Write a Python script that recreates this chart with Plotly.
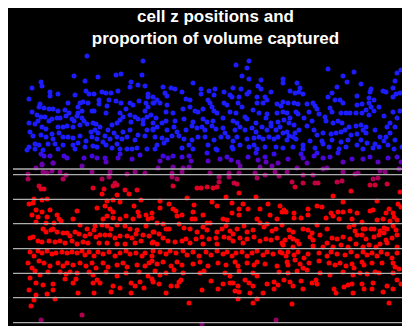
import plotly.graph_objects as go

# cell positions: [x position, z depth] (depth grows downward)
upper_cells = [
(87,56),(143,61),(74,76),(98,77),(116,75),(121,74),(142,75),(41,82),(42,86),(32,88),(85,81),(131,82),(138,85),(130,87),(145,86),(50,92),(50,96),(58,94),(86,91),(89,94),(94,94),(75,95),(102,92),(106,93),(111,93),(118,91),(148,94),(148,97),(29,99),(40,104),(39,107),(44,108),(49,109),(53,109),(58,111),(65,110),(68,103),(69,113),(80,103),(83,102),(88,103),(78,107),(82,111),(78,113),(92,111),(94,111),(99,100),(99,104),(109,100),(107,106),(106,113),(116,101),(121,103),(130,103),(133,105),(139,101),(146,103),(153,103),(148,107),(145,111),(120,113),(126,109),(32,112),(37,115),(41,117),(45,117),(49,121),(38,121),(29,123),(35,124),(42,127),(46,129),(52,119),(57,118),(60,118),(66,116),(72,119),(74,121),(77,116),(82,118),(84,121),(80,125),(73,127),(67,126),(63,127),(58,127),(87,124),(93,123),(96,124),(100,127),(95,130),(91,132),(98,133),(112,125),(117,123),(120,120),(123,117),(130,115),(135,117),(138,119),(143,120),(147,117),(151,115),(143,124),(131,122),(130,130),(123,132),(114,133),(108,130),(105,136),(103,142),(110,139),(117,137),(122,139),(127,137),(135,140),(138,135),(145,136),(147,130),(153,130),(153,123),(30,132),(33,136),(41,135),(46,137),(52,134),(53,139),(59,133),(63,137),(68,137),(73,138),(80,136),(86,141),(92,137),(97,139),(35,144),(39,145),(48,144),(55,144),(63,145),(73,145),(78,143),(85,147),(93,146),(97,147),(106,145),(112,148),(117,144),(120,149),(127,149),(132,149),(137,148),(147,149),(27,150),(29,147),(35,149),(43,150),(58,149),(75,149),(41,154),(50,156),(44,156),(64,156),(67,158),(53,163),(42,164),(84,158),(92,156),(97,158),(105,158),(106,162),(120,154),(118,158),(132,159),(140,155),
(249,61),(236,65),(247,68),(242,76),(249,79),(283,79),(283,83),(261,80),(193,83),(163,87),(171,88),(175,89),(182,92),(201,89),(201,94),(209,91),(215,89),(214,95),(224,92),(233,88),(241,89),(249,92),(258,86),(261,89),(271,92),(230,95),(232,97),(239,97),(247,94),(257,97),(265,97),(267,100),(153,97),(165,93),(167,96),(157,100),(160,103),(154,103),(167,105),(186,99),(190,100),(208,100),(210,103),(224,103),(227,105),(238,103),(242,107),(257,103),(263,103),(277,104),(281,106),(283,102),(173,113),(166,112),(183,109),(190,107),(195,111),(198,112),(203,109),(212,107),(214,111),(217,113),(230,112),(236,113),(245,117),(253,110),(259,113),(267,114),(277,113),(283,112),(156,118),(162,123),(166,121),(175,121),(184,119),(193,122),(203,119),(207,122),(213,121),(223,118),(233,121),(237,123),(247,119),(256,123),(266,118),(271,123),(278,122),(153,129),(157,127),(167,130),(174,127),(177,132),(179,136),(186,130),(192,126),(197,128),(202,127),(205,130),(212,126),(216,129),(223,128),(225,133),(235,130),(240,127),(245,130),(252,128),(256,132),(262,127),(267,130),(271,126),(276,130),(280,127),(283,133),(155,137),(162,138),(167,140),(172,136),(184,139),(192,140),(198,137),(205,137),(214,140),(221,137),(228,137),(233,141),(237,137),(247,139),(254,138),(259,137),(263,139),(269,137),(274,139),(278,137),(157,145),(155,149),(164,143),(182,148),(189,145),(193,149),(208,145),(216,149),(232,147),(233,149),(240,145),(249,147),(254,145),(257,149),(265,147),(276,147),(283,148),(163,156),(168,158),(173,156),(160,161),(182,157),(189,156),(191,161),(207,153),(208,161),(217,150),(220,159),(227,157),(231,160),(238,162),(248,157),(256,153),(258,160),(265,157),(266,162),(274,154),(278,163),
(328,69),(354,72),(343,76),(397,73),(401,70),(347,82),(361,84),(395,81),(297,83),(337,87),(300,88),(299,92),(290,91),(295,93),(303,94),(332,93),(328,97),(357,96),(370,92),(371,89),(383,91),(386,92),(393,88),(396,94),(400,93),(393,97),(369,98),(335,100),(340,100),(343,103),(288,103),(294,103),(298,104),(307,104),(313,103),(315,106),(357,105),(362,104),(369,103),(374,100),(366,110),(371,107),(374,111),(379,107),(287,113),(296,112),(298,114),(309,112),(317,109),(319,114),(330,108),(332,112),(341,113),(346,113),(350,113),(356,113),(362,113),(369,115),(384,116),(393,112),(400,111),(397,118),(284,120),(290,118),(289,123),(294,125),(304,118),(312,121),(325,117),(326,121),(333,123),(338,121),(342,123),(349,127),(356,126),(361,125),(366,127),(363,130),(375,130),(390,123),(387,127),(395,127),(287,132),(289,136),(293,137),(295,133),(299,130),(307,126),(314,130),(317,135),(323,133),(331,134),(336,133),(341,132),(345,130),(351,135),(357,134),(366,133),(380,137),(386,137),(390,133),(395,140),(287,140),(296,139),(303,145),(310,141),(322,141),(332,140),(341,142),(348,140),(361,140),(367,143),(375,144),(384,141),(293,147),(303,149),(315,148),(323,144),(329,147),(339,149),(346,147),(357,145),(363,149),(373,148),(379,147),(388,145),(394,149),(402,147),(288,159),(301,154),(303,158),(314,156),(323,158),(317,153),(330,157),(338,153),(343,162),(352,159),(363,159),(370,157),(378,162),(388,158),(397,157),(401,162),(307,163),
]

edge_cells = [
(36,168),(42,165),(53,163),(82,166),(28,174),(43,172),(47,173),(52,171),(60,172),(66,175),(92,172),(110,172),(127,174),(135,172),(28,179),(63,179),(102,179),(109,177),(115,183),(113,186),(117,185),(39,186),(41,189),(44,189),(93,188),(104,189),(125,190),(129,194),(137,190),(102,194),(117,195),(34,199),
(158,168),(173,167),(183,168),(189,167),(145,173),(172,173),(182,172),(210,173),(229,173),(240,166),(239,173),(255,173),(260,167),(265,175),(272,166),(275,172),(172,177),(177,179),(219,177),(219,182),(229,177),(234,183),(237,184),(257,178),(173,186),(197,188),(201,188),(207,187),(213,188),(217,187),(239,193),(256,197),(226,197),(187,198),
(297,168),(287,172),(303,175),(323,169),(327,168),(343,172),(355,174),(358,173),(380,171),(385,172),(399,169),(279,176),(313,175),(378,178),(292,182),(295,187),(303,183),(315,183),(318,183),(337,182),(342,181),(373,179),(370,185),(375,185),(387,184),(351,191),(333,196),(400,192),
]

lower_cells = [
(42,200),(47,199),(29,204),(33,203),(36,210),(42,212),(50,210),(32,215),(38,217),(47,217),(57,215),(59,219),(61,221),(77,211),(73,219),(97,208),(105,206),(107,201),(113,200),(120,202),(134,206),(141,200),(110,209),(113,212),(107,216),(113,218),(103,219),(120,219),(126,216),(133,219),(138,212),(139,216),(146,215),(148,219),(152,213),(36,222),(46,223),(54,223),(80,225),(87,229),(95,226),(94,230),(102,225),(107,226),(111,229),(117,225),(125,226),(130,229),(137,230),(146,226),(30,238),(33,237),(43,229),(46,232),(51,230),(53,229),(57,232),(63,233),(67,233),(70,236),(75,232),(79,234),(85,236),(90,234),(96,237),(100,235),(105,235),(110,235),(115,238),(120,236),(127,236),(132,238),(136,234),(143,235),(149,236),(153,232),(38,241),(42,242),(49,241),(55,242),(60,241),(65,243),(72,241),(77,244),(83,242),(88,243),(99,243),(107,243),(117,244),(125,244),(135,243),(141,241),(153,242),(30,252),(34,256),(38,251),(42,253),(47,251),(52,254),(56,253),(62,252),(67,253),(72,252),(77,253),(82,251),(85,255),(89,252),(94,256),(98,252),(103,254),(109,252),(115,256),(120,253),(126,251),(130,254),(136,253),(142,256),(145,253),(152,256),(28,263),(32,268),(39,261),(44,263),(50,266),(58,263),(63,266),(67,263),(73,265),(80,263),(86,266),(92,263),(96,268),(103,263),(108,267),(117,265),(123,263),(127,267),(137,265),(145,266),(149,263),(35,271),(40,275),(48,272),(60,272),(66,274),(70,272),(77,273),(89,272),(93,275),(106,272),(117,276),(126,273),(139,272),(148,276),(30,278),(36,283),(43,285),(53,284),(53,290),(65,279),(73,283),(76,279),(93,283),(97,280),(100,283),(113,286),(120,288),(131,283),(135,286),(140,282),(144,288),(152,279),(29,290),(36,295),(47,294),(55,299),(34,300),(78,293),(94,293),(111,292),(131,293),(31,306),(82,315),(41,320),
(160,201),(169,204),(160,208),(173,209),(176,211),(152,218),(177,216),(182,215),(194,205),(193,212),(203,215),(217,206),(212,202),(232,203),(239,209),(243,204),(248,209),(260,209),(268,204),(280,206),(282,212),(232,213),(239,215),(257,219),(270,215),(277,219),(192,219),(195,219),(223,219),(227,220),(207,223),(210,223),(157,223),(163,224),(166,229),(169,229),(154,232),(159,234),(179,224),(184,228),(190,229),(197,232),(203,227),(207,230),(217,232),(222,229),(226,226),(230,231),(233,234),(237,229),(244,226),(247,232),(253,230),(260,223),(264,227),(267,224),(272,231),(276,229),(282,225),(163,238),(168,241),(175,242),(182,241),(186,239),(196,239),(202,237),(209,239),(216,238),(224,237),(229,238),(233,241),(240,238),(247,239),(254,237),(260,241),(266,239),(271,240),(277,238),(152,243),(157,244),(190,243),(203,244),(217,244),(243,243),(282,243),(153,251),(160,252),(166,254),(170,251),(176,253),(183,251),(187,255),(193,252),(199,256),(206,252),(211,255),(217,251),(223,254),(227,252),(232,256),(236,253),(242,252),(247,256),(252,253),(257,251),(263,255),(267,252),(273,254),(280,252),(152,261),(157,264),(163,262),(171,266),(177,262),(182,265),(193,264),(200,262),(208,266),(218,263),(226,265),(235,262),(238,266),(247,263),(254,265),(257,262),(265,264),(277,266),(155,271),(160,275),(166,273),(174,270),(183,273),(200,273),(204,271),(225,273),(230,276),(239,271),(253,273),(257,276),(279,272),(153,282),(159,284),(171,286),(179,282),(181,280),(177,286),(211,281),(218,289),(223,284),(230,283),(233,283),(238,286),(239,292),(245,280),(249,283),(253,286),(267,284),(274,282),(278,285),(166,293),(202,290),(235,291),(250,293),(263,293),(274,289),(238,299),(257,299),(189,303),(253,303),(276,320),(202,324),
(343,202),(377,201),(398,204),(401,207),(284,210),(286,212),(294,213),(308,209),(317,206),(322,207),(331,213),(338,212),(343,212),(350,211),(357,213),(370,211),(373,210),(389,209),(386,213),(393,213),(294,218),(301,218),(308,215),(326,218),(333,216),(339,219),(352,219),(362,222),(377,220),(383,219),(390,221),(394,217),(397,220),(289,230),(293,232),(303,229),(308,230),(312,233),(317,225),(327,229),(349,227),(354,225),(355,231),(363,229),(365,229),(371,229),(374,229),(380,231),(384,228),(387,229),(393,226),(396,230),(285,240),(290,237),(293,239),(297,241),(310,237),(313,240),(320,235),(332,238),(337,239),(343,237),(350,239),(357,235),(362,235),(366,239),(374,237),(379,235),(384,233),(386,240),(392,238),(397,235),(283,245),(293,247),(299,244),(313,246),(323,247),(327,243),(333,247),(341,245),(348,247),(356,244),(363,247),(369,245),(376,247),(380,244),(387,243),(397,247),(282,253),(286,256),(288,252),(294,255),(298,252),(304,258),(308,254),(319,253),(327,256),(331,252),(337,254),(345,255),(351,252),(357,256),(363,252),(367,255),(372,253),(377,256),(381,252),(387,254),(392,258),(397,253),(287,262),(288,265),(295,260),(300,264),(303,268),(309,263),(319,261),(329,263),(335,265),(340,263),(346,266),(352,264),(354,268),(362,262),(364,265),(372,263),(382,263),(393,263),(395,267),(399,269),(288,273),(297,271),(307,270),(320,273),(330,275),(343,272),(353,275),(360,273),(367,274),(375,272),(379,273),(393,273),(284,280),(290,282),(293,286),(301,281),(303,289),(312,283),(316,280),(317,284),(334,289),(336,293),(344,287),(348,285),(352,284),(353,293),(362,284),(364,289),(372,289),(373,283),(383,292),(387,286),(393,289),(397,280),(401,284),(292,304),(389,303),
]

# z positions of the slab boundaries (horizontal lines)
slab_edges = [169, 174.7, 199.3, 223.7, 248.7, 273.3, 297.7, 322.7]

title_text = "cell z positions and<br>proportion of volume captured"

# colour by depth: blue outside the captured slab, red inside
depth_colorscale = [
    [0.0, "rgb(28,28,255)"],
    [0.05, "rgb(28,28,255)"],
    [0.075, "rgb(60,12,235)"],
    [0.11, "rgb(95,0,195)"],
    [0.14, "rgb(120,0,155)"],
    [0.17, "rgb(150,0,115)"],
    [0.20, "rgb(180,0,80)"],
    [0.235, "rgb(220,0,40)"],
    [0.275, "rgb(255,0,0)"],
    [0.825, "rgb(255,0,0)"],
    [0.86, "rgb(200,0,60)"],
    [0.89, "rgb(160,0,90)"],
    [0.92, "rgb(125,0,110)"],
    [1.0, "rgb(40,20,240)"],
]

fig = go.Figure()
for group in (upper_cells, edge_cells, lower_cells):
    xs = [p[0] for p in group]
    zs = [p[1] for p in group]
    fig.add_trace(go.Scatter(
        x=xs, y=zs, mode="markers",
        marker=dict(size=5, color=zs, colorscale=depth_colorscale,
                    cmin=140, cmax=340, line=dict(width=0)),
        hoverinfo="skip", showlegend=False,
    ))

for z in slab_edges:
    fig.add_shape(type="line", xref="paper", x0=0, x1=1, yref="y", y0=z, y1=z,
                  line=dict(color="rgb(175,175,175)", width=1.3), layer="above")

# the page adds an 8px body margin, so the plot is laid out 8px up/left
fig.update_layout(
    width=410, height=326,
    margin=dict(l=5, r=0, t=42, b=0),
    paper_bgcolor="black", plot_bgcolor="black",
    title=dict(text="<b>" + title_text + "</b>", x=0.5, xref="paper",
               y=0.957, yref="container", yanchor="top",
               font=dict(family="Liberation Sans, Arial, sans-serif", size=17, color="white")),
    xaxis=dict(range=[13, 418], visible=False),
    yaxis=dict(range=[334, 50], visible=False),
)

fig.write_html("out.html")
